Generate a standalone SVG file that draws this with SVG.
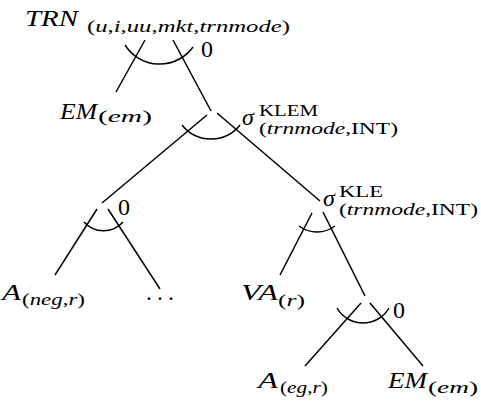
<svg xmlns="http://www.w3.org/2000/svg" width="481" height="403" viewBox="0 0 481 403">
<style>
text{font-family:"Liberation Serif","Times New Roman",serif;fill:#000}
.m{font-size:24px;font-style:italic}
.n{font-size:24px;font-style:normal}
.s{font-size:17px;font-style:italic}
.t{font-size:16px}
.u{font-style:normal}
.e{fill:none;stroke:#000;stroke-width:1.5;stroke-linecap:butt}
</style>
<rect width="481" height="403" fill="#fff"/>
<g id="connectors" class="e">
<line x1="145" y1="40" x2="116" y2="92"/>
<line x1="173" y1="40" x2="211" y2="111"/>
<line x1="207" y1="115" x2="102" y2="203"/>
<line x1="217" y1="113" x2="320" y2="201"/>
<line x1="97" y1="209" x2="55" y2="275"/>
<line x1="108" y1="209" x2="160" y2="289"/>
<line x1="312" y1="213" x2="280" y2="275"/>
<line x1="323" y1="212" x2="365" y2="296"/>
<line x1="361" y1="303" x2="305" y2="366"/>
<line x1="370" y1="303" x2="423" y2="366"/>
</g>
<g id="n-trn">
<text class="m" x="25" y="26" textLength="53" lengthAdjust="spacingAndGlyphs">TRN</text>
<text class="s" x="87" y="32" textLength="203" lengthAdjust="spacingAndGlyphs"><tspan class="u">(</tspan>u<tspan class="u">,</tspan>i<tspan class="u">,</tspan>uu<tspan class="u">,</tspan>mkt<tspan class="u">,</tspan>trnmode<tspan class="u">)</tspan></text>
<path class="e" d="M125,45 A41,41 0 0 0 193,47"/>
<text class="n" x="201" y="57">0</text>
</g>
<g id="n-em1">
<text class="m" x="60" y="119" textLength="37" lengthAdjust="spacingAndGlyphs">EM</text>
<text class="s" x="98" y="122" textLength="54" lengthAdjust="spacingAndGlyphs"><tspan class="u">(</tspan>em<tspan class="u">)</tspan></text>
</g>
<g id="n-klem">
<path class="e" d="M182,125 A37,37 0 0 0 240,125"/>
<text class="m" x="242" y="125">σ</text>
<text class="s t u" x="259" y="116" textLength="59" lengthAdjust="spacingAndGlyphs">KLEM</text>
<text class="s t" x="259" y="134" textLength="139" lengthAdjust="spacingAndGlyphs"><tspan class="u">(</tspan>trnmode<tspan class="u">,INT)</tspan></text>
</g>
<g id="n-zero">
<path class="e" d="M84,222 A26,26 0 0 0 123,222"/>
<text class="n" x="118" y="215">0</text>
</g>
<g id="n-aneg">
<text class="m" x="2" y="300" textLength="19" lengthAdjust="spacingAndGlyphs">A</text>
<text class="s" x="22" y="305" textLength="63" lengthAdjust="spacingAndGlyphs"><tspan class="u">(</tspan>neg<tspan class="u">,</tspan>r<tspan class="u">)</tspan></text>
</g>
<g id="n-dots">
<text class="n" x="146" y="300" textLength="28" lengthAdjust="spacing">...</text>
</g>
<g id="n-kle">
<path class="e" d="M299,226 A30,30 0 0 0 335,226"/>
<text class="m" x="323" y="206">σ</text>
<text class="s t u" x="339" y="197" textLength="44" lengthAdjust="spacingAndGlyphs">KLE</text>
<text class="s t" x="339" y="215" textLength="139" lengthAdjust="spacingAndGlyphs"><tspan class="u">(</tspan>trnmode<tspan class="u">,INT)</tspan></text>
</g>
<g id="n-va">
<text class="m" x="241" y="300" textLength="37" lengthAdjust="spacingAndGlyphs">VA</text>
<text class="s" x="278" y="306" textLength="27" lengthAdjust="spacingAndGlyphs"><tspan class="u">(</tspan>r<tspan class="u">)</tspan></text>
</g>
<g id="n-zero2">
<path class="e" d="M337,308 A30,30 0 0 0 389,308"/>
<text class="n" x="393" y="318">0</text>
</g>
<g id="n-aeg">
<text class="m" x="258" y="388" textLength="20" lengthAdjust="spacingAndGlyphs">A</text>
<text class="s" x="280" y="393" textLength="48" lengthAdjust="spacingAndGlyphs"><tspan class="u">(</tspan>eg<tspan class="u">,</tspan>r<tspan class="u">)</tspan></text>
</g>
<g id="n-em2">
<text class="m" x="388" y="388" textLength="39" lengthAdjust="spacingAndGlyphs">EM</text>
<text class="s" x="428" y="393" textLength="50" lengthAdjust="spacingAndGlyphs"><tspan class="u">(</tspan>em<tspan class="u">)</tspan></text>
</g>
</svg>
